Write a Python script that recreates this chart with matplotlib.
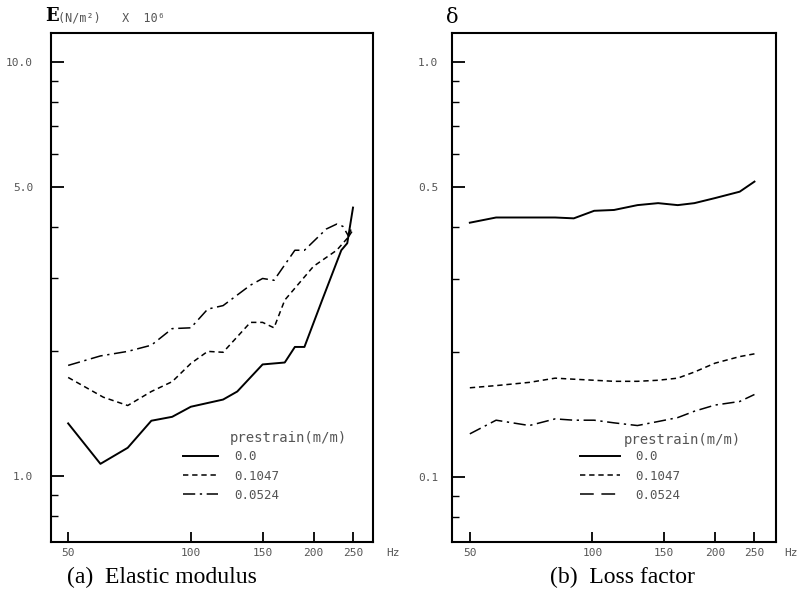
import matplotlib
matplotlib.use("Agg")
import matplotlib.pyplot as plt
from matplotlib.ticker import FixedLocator, NullFormatter, NullLocator

# ---- data ----
# (a) elastic modulus E (x 10^6 N/m^2)
f_e0 = [50, 60, 70, 80, 90, 100, 120, 130, 150, 170, 180, 190, 210, 234, 242, 250]
e_0 = [1.34, 1.07, 1.17, 1.36, 1.39, 1.47, 1.53, 1.60, 1.86, 1.88, 2.05, 2.05, 2.66, 3.51, 3.65, 4.45]

f_e1 = [50, 61, 70, 80, 90, 100, 110, 120, 140, 150, 160, 170, 200, 228, 242, 248]
e_1 = [1.73, 1.55, 1.48, 1.60, 1.69, 1.87, 2.00, 1.99, 2.35, 2.35, 2.28, 2.66, 3.21, 3.51, 3.75, 3.97]

f_e2 = [50, 60, 70, 80, 90, 100, 110, 120, 140, 150, 160, 180, 190, 215, 228, 236, 244, 250]
e_2 = [1.85, 1.95, 2.00, 2.07, 2.27, 2.28, 2.53, 2.58, 2.89, 3.00, 2.97, 3.51, 3.51, 3.95, 4.06, 4.01, 3.79, 3.93]

# (b) loss factor delta
f_d0 = [50, 58, 70, 81, 90, 101, 113, 129, 145, 162, 178, 200, 230, 250]
d_0 = [0.410, 0.422, 0.422, 0.422, 0.420, 0.438, 0.440, 0.452, 0.457, 0.452, 0.457, 0.470, 0.487, 0.515]

f_d1 = [50, 58, 70, 81, 90, 101, 113, 129, 145, 162, 178, 200, 230, 250]
d_1 = [0.164, 0.166, 0.169, 0.173, 0.172, 0.171, 0.170, 0.170, 0.171, 0.173, 0.179, 0.188, 0.195, 0.198]

f_d2 = [50, 58, 70, 81, 90, 101, 113, 129, 145, 162, 178, 200, 230, 250]
d_2 = [0.127, 0.137, 0.133, 0.138, 0.137, 0.137, 0.135, 0.133, 0.136, 0.139, 0.144, 0.149, 0.152, 0.158]

legend_labels = ["0.0", "0.1047", "0.0524"]
x_ticks = [50, 100, 150, 200, 250]
x_ticklabels = ["50", "100", "150", "200", "250"]

mono = "DejaVu Sans Mono"
grey = "#555555"

fig = plt.figure(figsize=(7.98, 6.11), dpi=100)
ax1 = fig.add_axes([0.064, 0.113, 0.4035, 0.833])
ax2 = fig.add_axes([0.5664, 0.113, 0.4065, 0.833])

solid = dict(color="black", lw=1.4, linestyle="-")
dashed = dict(color="black", lw=1.1, linestyle=(0, (3.5, 2.5)))
dashdot = dict(color="black", lw=1.1, linestyle=(0, (8, 3, 1.5, 3)))
longdash = dict(color="black", lw=1.1, linestyle=(0, (9, 5)))

ax1.plot(f_e0, e_0, **solid)
ax1.plot(f_e1, e_1, **dashed)
ax1.plot(f_e2, e_2, **dashdot)

ax2.plot(f_d0, d_0, **solid)
ax2.plot(f_d1, d_1, **dashed)
ax2.plot(f_d2, d_2, **dashdot)

for ax in (ax1, ax2):
    ax.set_xscale("log")
    ax.set_yscale("log")
    ax.xaxis.set_major_locator(FixedLocator(x_ticks))
    ax.xaxis.set_minor_locator(NullLocator())
    ax.xaxis.set_minor_formatter(NullFormatter())
    ax.set_xticklabels(x_ticklabels, fontfamily=mono, fontsize=8, color=grey)
    ax.tick_params(axis="x", which="major", direction="in", length=7, width=1.3, pad=4)
    ax.tick_params(axis="y", which="major", direction="in", length=9, width=1.3)
    ax.tick_params(axis="y", which="minor", direction="in", length=5, width=1.0)
    ax.yaxis.set_minor_formatter(NullFormatter())
    for s in ax.spines.values():
        s.set_linewidth(1.5)

ax1.set_xlim(45.4, 280)
ax1.set_ylim(0.693, 11.75)
ax1.yaxis.set_major_locator(FixedLocator([1.0, 5.0, 10.0]))
ax1.yaxis.set_minor_locator(FixedLocator([0.8, 0.9, 2, 3, 4, 6, 7, 8, 9]))
ax1.set_yticklabels(["1.0", "5.0", "10.0"], fontfamily=mono, fontsize=8, color=grey)
ax1.tick_params(axis="y", which="major", pad=13)

ax2.set_xlim(45.2, 283)
ax2.set_ylim(0.0697, 1.175)
ax2.yaxis.set_major_locator(FixedLocator([0.1, 0.5, 1.0]))
ax2.yaxis.set_minor_locator(FixedLocator([0.08, 0.09, 0.2, 0.3, 0.4, 0.6, 0.7, 0.8, 0.9]))
ax2.set_yticklabels(["0.1", "0.5", "1.0"], fontfamily=mono, fontsize=8, color=grey)
ax2.tick_params(axis="y", which="major", pad=10)

# "Hz" after the last tick label
ax1.text(1.04, -0.022, "Hz", transform=ax1.transAxes, fontfamily=mono, fontsize=8,
         color=grey, va="center", ha="left")
ax2.text(1.025, -0.022, "Hz", transform=ax2.transAxes, fontfamily=mono, fontsize=8,
         color=grey, va="center", ha="left")

# axis titles
fig.text(0.056, 0.973, "E", fontfamily="DejaVu Serif", fontweight="bold", fontsize=13,
         va="center", ha="left")
fig.text(0.073, 0.971, "(N/m²)   X  10⁶", fontfamily=mono, fontsize=8.5, color=grey,
         va="center", ha="left")
fig.text(0.559, 0.972, "δ", fontfamily="DejaVu Serif", fontsize=15, va="center", ha="left")

# legends
ax1.text(0.555, 0.205, "prestrain(m/m)", transform=ax1.transAxes, fontfamily=mono,
         fontsize=10, color=grey, va="center", ha="left")
ax1.legend(legend_labels, loc="upper left", bbox_to_anchor=(0.41, 0.18), frameon=False,
           prop={"family": mono, "size": 9}, handlelength=2.8, labelspacing=0.5,
           borderpad=0, borderaxespad=0, handletextpad=1.3, labelcolor=grey)

h0, = ax2.plot([], [], **solid)
h1, = ax2.plot([], [], **dashed)
h2, = ax2.plot([], [], **longdash)
ax2.text(0.53, 0.20, "prestrain(m/m)", transform=ax2.transAxes, fontfamily=mono,
         fontsize=10, color=grey, va="center", ha="left")
ax2.legend([h0, h1, h2], legend_labels, loc="upper left", bbox_to_anchor=(0.395, 0.18),
           frameon=False, prop={"family": mono, "size": 9}, handlelength=3.2,
           labelspacing=0.5, borderpad=0, borderaxespad=0, handletextpad=1.2,
           labelcolor=grey)

# captions
fig.text(0.084, 0.055, "(a)  Elastic modulus", fontfamily="Liberation Serif", fontsize=17,
         va="center", ha="left")
fig.text(0.689, 0.055, "(b)  Loss factor", fontfamily="Liberation Serif", fontsize=17,
         va="center", ha="left")

fig.savefig("out.png", dpi=100)
